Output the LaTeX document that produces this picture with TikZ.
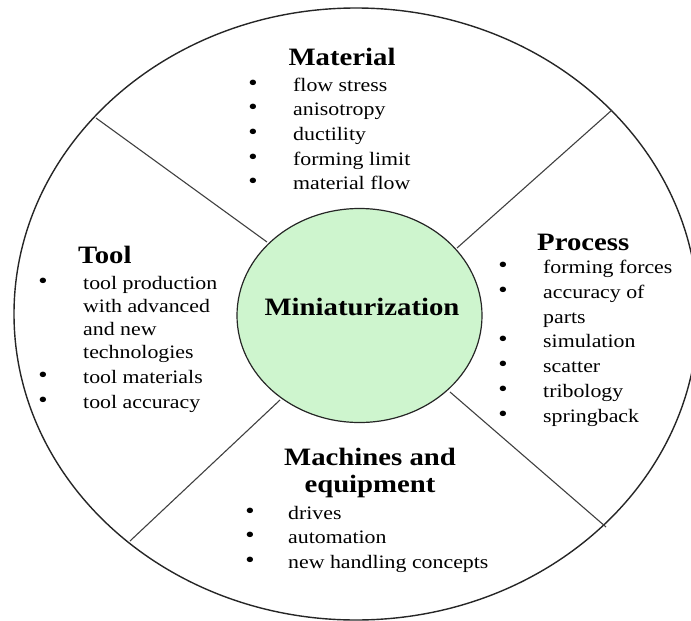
\documentclass[tikz,border=0pt]{standalone}
\usepackage{fontspec}
\setmainfont{Liberation Serif}[FakeStretch=1.15]
\usetikzlibrary{shapes.geometric}
\definecolor{coregreen}{RGB}{206,245,206}
\begin{document}
\begin{tikzpicture}[x=1pt,y=-1pt,
  ring/.style={draw=black!85, line width=1.4pt},
  spoke/.style={draw=black!75, line width=1.1pt},
  head/.style={font=\fontsize{25}{27}\selectfont\bfseries, inner sep=0, anchor=base},
  itm/.style={font=\fontsize{19}{24}\selectfont, inner sep=0, anchor=base west},
  dot/.style={font=\fontsize{23}{24}\selectfont, inner sep=0, anchor=base, yshift=1pt}]
\useasboundingbox (0,0) rectangle (691,621);
% outer ring
\node[ellipse, ring, minimum width=684pt, minimum height=612pt, inner sep=0] (outer) at (356,314) {};
% spoke end points
\coordinate (tlo) at (96,118);  \coordinate (tli) at (267,242);
\coordinate (tro) at (612,110); \coordinate (tri) at (457,248);
\coordinate (bro) at (606,527); \coordinate (bri) at (450,392);
\coordinate (blo) at (130,541); \coordinate (bli) at (280,400);
\draw[spoke] (tlo) -- (tli);
\draw[spoke] (tro) -- (tri);
\draw[spoke] (bro) -- (bri);
\draw[spoke] (blo) -- (bli);
% core
\node[ellipse, draw=black!85, line width=1.2pt, fill=coregreen, minimum width=245pt, minimum height=214pt, inner sep=0] (core) at (359.5,315.5) {};
\node[head] (mini) at (362,315) {Miniaturization};
% Material
\node[head] (mat) at (342,65) {Material};
\foreach \t [count=\i from 0] in {flow stress, anisotropy, ductility, forming limit, material flow} {
  \node[dot] (matb\i) at (253,{91+24.7*\i}) {•};
  \node[itm] (mat\i) at (293,{91+24.7*\i}) {\t};
}
% Tool
\node[head, anchor=base west] (tool) at (78,263) {Tool};
\node[dot] (toolb1) at (43,289.5) {•};
\node[itm] (tool1) at (83,289.5) {tool production};
\node[itm] (tool2) at (83,312.5) {with advanced};
\node[itm] (tool3) at (83,335.5) {and new};
\node[itm] (tool4) at (83,358.5) {technologies};
\node[dot] (toolb5) at (43,383.5) {•};
\node[itm] (tool5) at (83,383.5) {tool materials};
\node[dot] (toolb6) at (43,408.5) {•};
\node[itm] (tool6) at (83,408.5) {tool accuracy};
% Process
\node[head, anchor=base west] (proc) at (537,250) {Process};
\node[dot] (procb1) at (503,273.5) {•};
\node[itm] (proc1) at (543,273.5) {forming forces};
\node[dot] (procb2) at (503,298.3) {•};
\node[itm] (proc2) at (543,298.3) {accuracy of};
\node[itm] (proc3) at (543,323.1) {parts};
\node[dot] (procb4) at (503,347.9) {•};
\node[itm] (proc4) at (543,347.9) {simulation};
\node[dot] (procb5) at (503,372.7) {•};
\node[itm] (proc5) at (543,372.7) {scatter};
\node[dot] (procb6) at (503,397.5) {•};
\node[itm] (proc6) at (543,397.5) {tribology};
\node[dot] (procb7) at (503,422.3) {•};
\node[itm] (proc7) at (543,422.3) {springback};
% Machines and equipment
\node[head] (mach1) at (370,465) {Machines and};
\node[head] (mach2) at (370,492) {equipment};
\node[dot] (machb1) at (250,519.5) {•};
\node[itm] (machi1) at (288,519.5) {drives};
\node[dot] (machb2) at (250,543.5) {•};
\node[itm] (machi2) at (288,543.5) {automation};
\node[dot] (machb3) at (250,568.5) {•};
\node[itm] (machi3) at (288,568.5) {new handling concepts};
\end{tikzpicture}
\end{document}
